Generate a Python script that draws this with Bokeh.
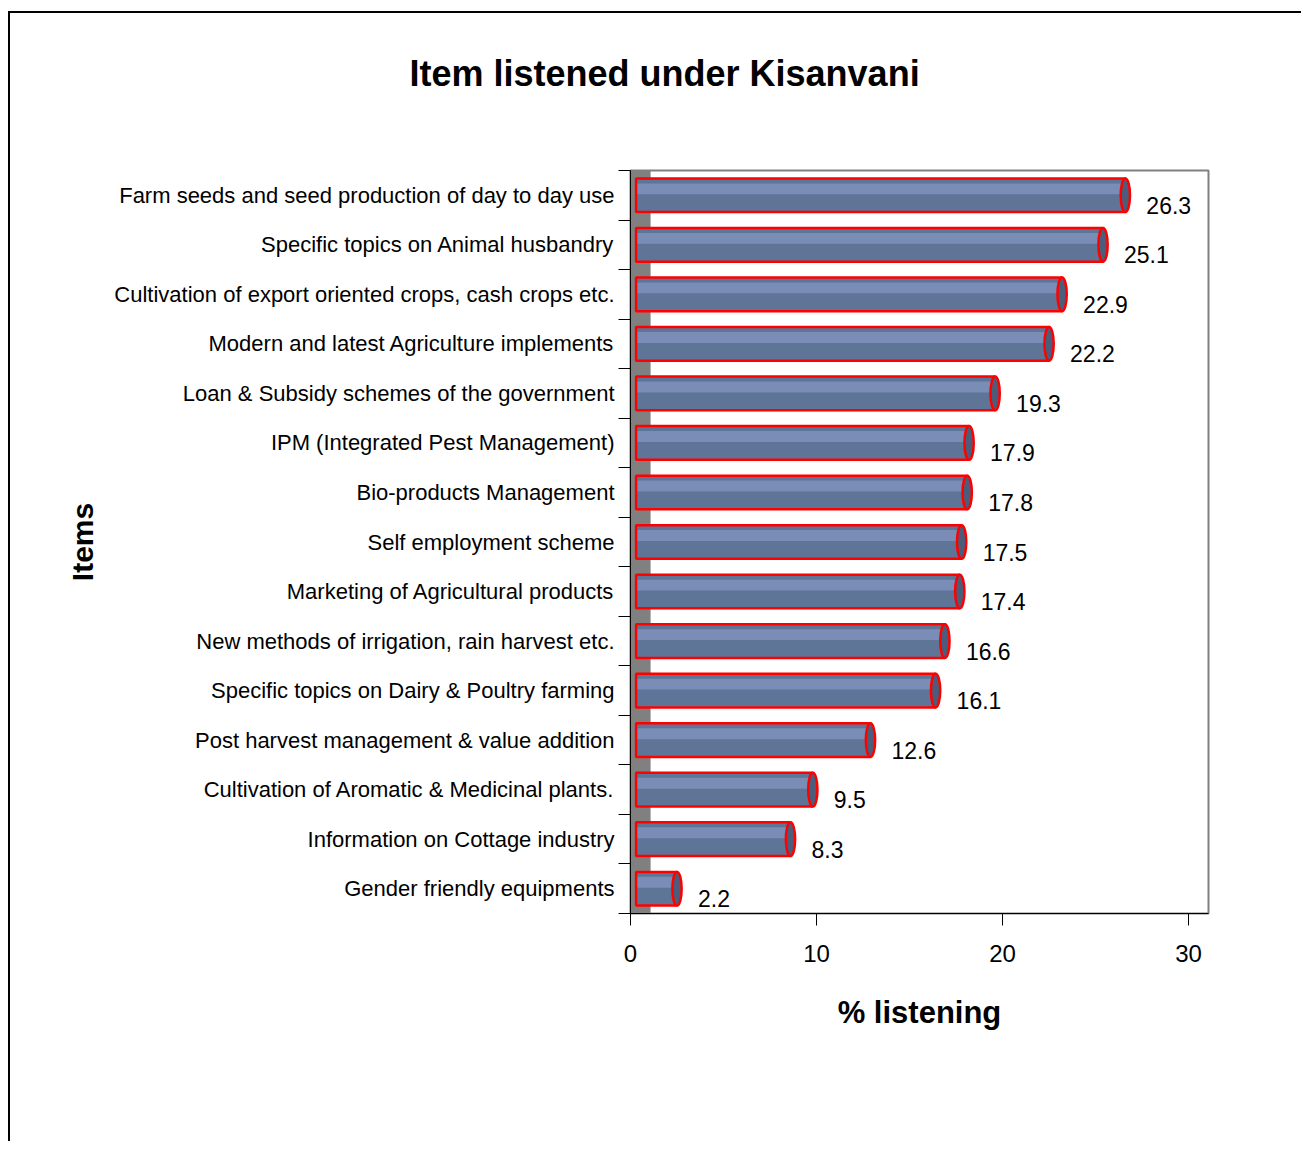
from bokeh.plotting import figure
from bokeh.models import Range1d, FixedTicker, BoxAnnotation, Title, ColumnDataSource
from bokeh.embed import file_html
from bokeh.resources import INLINE
from bokeh.core.properties import value

# ---- data (top to bottom as in the chart) ----
items = [
    "Farm seeds and seed production of day to day use",
    "Specific topics on Animal husbandry",
    "Cultivation of export oriented crops, cash crops etc.",
    "Modern and latest Agriculture implements",
    "Loan & Subsidy schemes of the government",
    "IPM (Integrated Pest Management)",
    "Bio-products Management",
    "Self employment scheme",
    "Marketing of Agricultural products",
    "New methods of irrigation, rain harvest etc.",
    "Specific topics on Dairy & Poultry farming",
    "Post harvest management & value addition",
    "Cultivation of Aromatic & Medicinal plants.",
    "Information on Cottage industry",
    "Gender friendly equipments",
]
percent = [26.3, 25.1, 22.9, 22.2, 19.3, 17.9, 17.8, 17.5, 17.4, 16.6, 16.1, 12.6, 9.5, 8.3, 2.2]
x_ticks = [0, 10, 20, 30]

TITLE = "Item listened under Kisanvani"
X_LABEL = "% listening"
Y_LABEL = "Items"

FONT = "Liberation Sans"
DEPTH = 0.3      # 3-D depth shift of the bars
WALL = 1.08      # grey side wall width
BAR_H = 0.68
CAP_W = 0.5

n = len(items)
centers = [n - i - 0.5 for i in range(n)]
bounds = list(range(n + 1))

src = ColumnDataSource(dict(
    y=centers,
    left=[DEPTH] * n,
    right=[v + DEPTH for v in percent],
    hi_y=[c + 0.13 for c in centers],
    lab=[f"{v:.1f}" for v in percent],
))

p = figure(
    output_backend="svg", toolbar_location=None,
    frame_width=578, frame_height=743,
    min_border_left=620, min_border_top=157, min_border_right=93, min_border_bottom=228,
    x_range=Range1d(0, 31.07), y_range=Range1d(0, n),
    background_fill_color="white", border_fill_color="white",
)
p.styles = {"border-left": "2px solid #000", "border-top": "2px solid #000",
            "margin-top": "11px", "margin-left": "8px"}
p.grid.visible = False
p.outline_line_color = "#808080"
p.outline_line_width = 2

# grey side wall
p.add_layout(BoxAnnotation(left=0, right=WALL, fill_color="#808080", fill_alpha=1.0, line_alpha=0, level="underlay"))

# bars (cylinders)
p.hbar(y="y", left="left", right="right", height=BAR_H, source=src,
       fill_color="#5f7597", line_color=None)
p.hbar(y="hi_y", left="left", right="right", height=0.22, source=src,
       fill_color="#8a9dcb", fill_alpha=0.6, line_color=None)
p.hbar(y="y", left="left", right="right", height=BAR_H, source=src,
       fill_alpha=0, line_color="#ff0000", line_width=2.5)
p.ellipse(x="right", y="y", width=CAP_W, height=BAR_H, source=src,
          fill_color="#4b5d7a", line_color="#ff0000", line_width=2.5)

# data labels
p.text(x="right", y="y", text="lab", source=src, x_offset=21, y_offset=10,
       text_align="left", text_baseline="middle",
       text_font=value(FONT), text_font_size="23px", text_color="black")

# x axis
xa = p.xaxis[0]
xa.ticker = FixedTicker(ticks=x_ticks, minor_ticks=[])
xa.major_tick_out = 12
xa.major_tick_in = 0
xa.major_tick_line_color = "black"
xa.axis_line_color = "black"
xa.major_label_text_font = FONT
xa.major_label_text_font_size = "24px"
xa.major_label_text_color = "black"
xa.major_label_standoff = 19
xa.axis_label = X_LABEL
xa.axis_label_text_font = FONT
xa.axis_label_text_font_size = "31px"
xa.axis_label_text_font_style = "bold"
xa.axis_label_text_color = "black"
xa.axis_label_standoff = 30

# y axis
ya = p.yaxis[0]
ya.ticker = FixedTicker(ticks=centers, minor_ticks=bounds)
ya.major_label_overrides = {c: name for c, name in zip(centers, items)}
ya.major_tick_out = 0
ya.major_tick_in = 0
ya.minor_tick_out = 12
ya.minor_tick_in = 0
ya.minor_tick_line_color = "black"
ya.axis_line_color = "black"
ya.major_label_text_font = FONT
ya.major_label_text_font_size = "22px"
ya.major_label_text_color = "black"
ya.major_label_standoff = 4
ya.axis_label = Y_LABEL
ya.axis_label_text_font = FONT
ya.axis_label_text_font_size = "30px"
ya.axis_label_text_font_style = "bold"
ya.axis_label_text_color = "black"
ya.axis_label_standoff = 12

# spacer between frame and title, then the title itself
p.add_layout(Title(text=" ", text_font_size="10px", standoff=58), "above")
p.add_layout(Title(text=TITLE, align="left", offset=-221, standoff=10,
                   vertical_align="middle",
                   text_font=FONT, text_font_size="36px", text_font_style="bold",
                   text_color="black"), "above")

open("out.html", "w").write(file_html(p, INLINE))
